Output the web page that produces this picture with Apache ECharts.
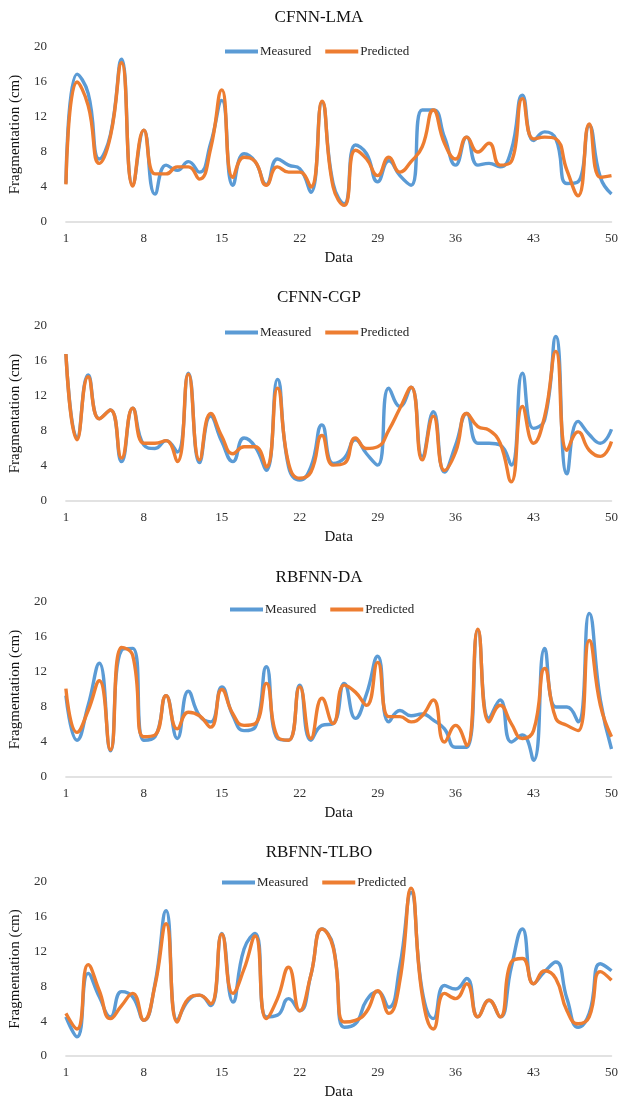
<!DOCTYPE html>
<html>
<head>
<meta charset="utf-8">
<title>Fragmentation</title>
<script src="https://cdn.jsdelivr.net/npm/echarts@6/dist/echarts.min.js"></script>
<style>
  html, body { margin: 0; padding: 0; background: #fff; }
  #main { width: 621px; height: 1102px; }
</style>
</head>
<body>
<div id="main"></div>
<script>
// x 轴类别 (样本编号)
var categories = [1,2,3,4,5,6,7,8,9,10,11,12,13,14,15,16,17,18,19,20,
  21,22,23,24,25,26,27,28,29,30,31,32,33,34,35,36,37,38,39,40,
  41,42,43,44,45,46,47,48,49,50];

var panelTitles = ['CFNN-LMA', 'CFNN-CGP', 'RBFNN-DA', 'RBFNN-TLBO'];
var seriesNames = ['Measured', 'Predicted'];

// CFNN-LMA
var lmaMeasured = [4.4,16.9,14.7,7.2,10.0,18.6,4.2,10.5,3.2,6.5,5.9,6.9,5.7,9.0,13.9,4.2,7.8,6.9,4.3,7.2,
  6.5,6.1,3.4,13.7,4.4,2.1,8.8,7.8,4.6,7.0,5.3,4.2,12.8,12.8,9.7,6.5,9.7,6.5,6.7,6.3,
  8.2,14.5,9.3,10.3,9.5,4.4,4.6,11.0,5.1,3.2];
var lmaPredicted = [4.3,16.0,13.3,6.7,9.8,18.2,4.1,10.5,5.5,5.5,6.3,6.3,4.9,8.4,15.1,5.1,7.4,6.9,4.2,6.3,
  5.7,5.7,4.0,13.8,4.0,1.9,8.2,7.2,5.3,7.4,5.7,6.9,8.6,12.8,9.0,7.2,9.7,8.0,9.0,6.5,
  6.9,14.1,9.5,9.7,9.5,5.9,3.0,11.2,5.1,5.3];

// CFNN-CGP
var cgpMeasured = [16.8,7.2,14.4,9.4,10.4,4.5,10.6,6.4,6.0,6.9,5.6,14.6,4.4,9.7,6.8,4.5,7.2,6.2,3.5,13.9,
  3.9,2.4,3.9,8.7,4.3,4.9,7.0,5.4,4.1,12.9,10.8,13.0,5.1,10.2,3.3,6.4,10.0,6.6,6.6,6.4,
  4.1,14.6,8.3,9.3,18.8,3.1,9.1,7.6,6.6,8.2];
var cgpPredicted = [16.8,7.0,14.2,9.4,10.4,4.9,10.6,6.6,6.6,6.9,4.5,14.5,4.7,10.0,7.4,5.4,6.2,6.2,3.9,12.9,
  4.3,2.6,3.3,7.5,4.1,4.3,7.2,6.0,6.2,8.1,10.6,13.0,4.7,9.7,3.5,5.6,10.0,8.5,8.1,6.6,
  2.2,10.8,6.6,9.7,17.1,5.8,7.9,5.8,5.1,6.8];

// RBFNN-DA
var daMeasured = [9.3,4.2,8.2,13.0,3.0,14.5,14.7,4.2,4.6,9.3,4.4,9.8,7.0,6.3,10.3,7.0,5.3,5.7,12.6,4.4,
  4.2,10.5,4.2,5.9,6.1,10.7,6.7,9.5,13.8,6.3,7.6,7.0,7.2,6.5,5.5,3.4,3.4,16.8,6.7,8.8,
  4.0,4.8,1.9,14.7,8.0,8.0,6.3,18.7,8.8,3.2];
var daPredicted = [10.1,5.1,7.6,11.0,3.1,14.8,13.9,4.6,4.8,9.3,5.5,7.4,7.0,5.7,10.0,7.2,5.9,6.1,10.7,4.6,
  4.2,10.3,4.4,9.0,6.1,10.5,9.7,8.2,13.1,6.9,6.9,6.3,7.0,8.8,4.0,5.9,3.6,16.9,6.3,8.2,
  6.1,4.4,5.3,12.4,6.7,5.9,5.3,15.6,8.2,4.6];

// RBFNN-TLBO
var tlboMeasured = [4.5,2.2,9.5,6.8,4.5,7.4,6.8,4.1,8.3,16.7,4.1,6.4,7.0,5.8,14.1,6.2,12.3,14.1,4.5,4.7,
  6.6,5.2,9.3,14.6,12.7,3.3,3.7,6.4,7.4,5.6,10.4,18.8,7.5,4.3,8.1,7.7,8.9,4.5,6.4,4.5,
  10.2,14.6,8.3,9.7,10.8,6.6,3.3,4.9,10.6,9.8];
var tlboPredicted = [4.9,3.1,10.5,7.5,4.3,5.8,7.2,4.1,8.1,15.2,3.9,6.6,7.0,6.0,14.0,7.2,10.0,13.8,4.3,6.6,
  10.2,5.2,9.3,14.6,12.5,3.9,4.1,5.1,7.5,4.9,8.7,19.3,7.0,3.1,7.2,6.6,8.3,4.5,6.4,4.5,
  10.8,11.2,8.3,9.8,8.9,5.2,3.7,4.5,9.7,8.7];

var measuredList = [lmaMeasured, cgpMeasured, daMeasured, tlboMeasured];
var predictedList = [lmaPredicted, cgpPredicted, daPredicted, tlboPredicted];

var FONT = '"Liberation Serif", "Times New Roman", serif';
var BLUE = '#5B9BD5', ORANGE = '#ED7D31';

// 每个小图的位置
var grids = [
  {left: 62, top: 47, width: 553, height: 175},
  {left: 62, top: 326, width: 555, height: 175},
  {left: 59, top: 602, width: 554, height: 175},
  {left: 59, top: 882, width: 554, height: 174}
];
var titleTops = [9, 289, 569, 844];
var legendTops = [45, 326, 603, 876];
var legendLefts = [225, 225, 230, 222];

var option = {
  animation: false,
  backgroundColor: '#fff',
  color: [BLUE, ORANGE],
  title: [], legend: [], grid: [], xAxis: [], yAxis: [], series: []
};

for (var i = 0; i < 4; i++) {
  option.title.push({
    text: panelTitles[i],
    left: 319, top: titleTops[i], padding: 0,
    textAlign: 'center',
    textStyle: {fontFamily: FONT, fontSize: 17, fontWeight: 'normal', color: '#111'}
  });
  option.legend.push({
    data: seriesNames,
    left: legendLefts[i], top: legendTops[i], padding: 0,
    icon: 'rect', itemWidth: 33, itemHeight: 4, itemGap: 14,
    textStyle: {fontFamily: FONT, fontSize: 13, color: '#262626', padding: [0, 0, 0, -3]}
  });
  option.grid.push(grids[i]);
  option.xAxis.push({
    type: 'category', gridIndex: i, data: categories, boundaryGap: false,
    name: 'Data', nameLocation: 'middle', nameGap: 29,
    nameTextStyle: {fontFamily: FONT, fontSize: 15, color: '#111'},
    axisLine: {lineStyle: {color: '#d9d9d9', width: 1.5}},
    axisTick: {show: false},
    axisLabel: {interval: 6, margin: 10, fontFamily: FONT, fontSize: 13, color: '#333'},
    splitLine: {show: false}
  });
  option.yAxis.push({
    type: 'value', gridIndex: i, min: 0, max: 20, interval: 4,
    name: 'Fragmentation (cm)', nameLocation: 'middle', nameGap: 37,
    nameTextStyle: {fontFamily: FONT, fontSize: 15, color: '#111'},
    axisLine: {show: false}, axisTick: {show: false},
    axisLabel: {margin: 19, fontFamily: FONT, fontSize: 13, color: '#333'},
    splitLine: {show: false}
  });
  option.series.push({
    name: 'Measured', type: 'line', xAxisIndex: i, yAxisIndex: i,
    data: measuredList[i], smooth: 0.5, symbol: 'none',
    lineStyle: {color: BLUE, width: 3.4}, itemStyle: {color: BLUE}, z: 2
  });
  option.series.push({
    name: 'Predicted', type: 'line', xAxisIndex: i, yAxisIndex: i,
    data: predictedList[i], smooth: 0.5, symbol: 'none',
    lineStyle: {color: ORANGE, width: 3.4}, itemStyle: {color: ORANGE}, z: 3
  });
}

var myChart = echarts.init(document.getElementById('main'), null, {renderer: 'canvas'});
myChart.setOption(option);
</script>
</body>
</html>
